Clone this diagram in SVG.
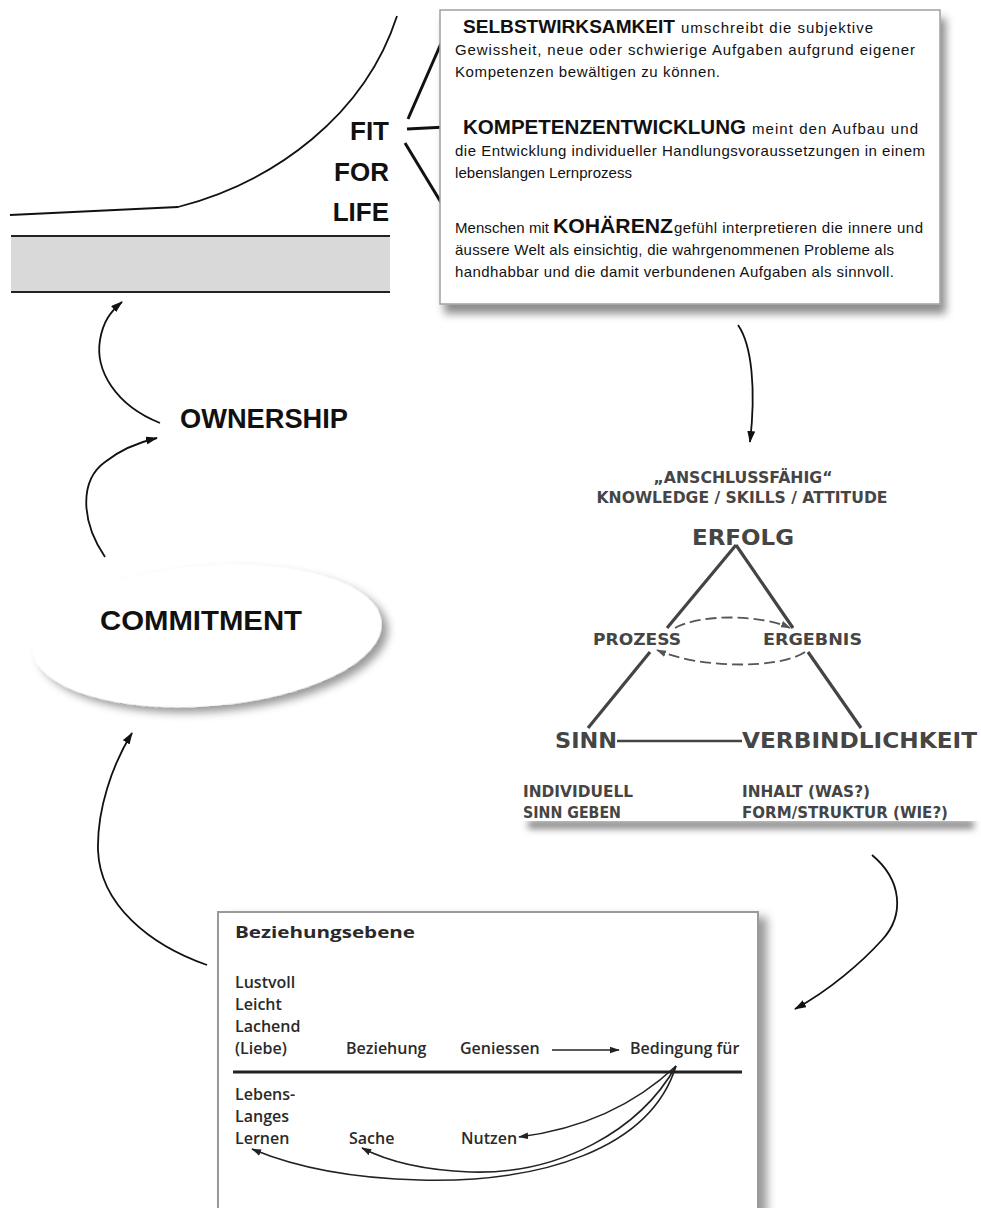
<svg xmlns="http://www.w3.org/2000/svg" width="981" height="1208" viewBox="0 0 981 1208">
<style>
.geo{font-family:"Liberation Sans",Arial,sans-serif;fill:#111}
.b{font-weight:bold}
.body{font-size:15px}
.tri{font-family:"DejaVu Sans",Verdana,sans-serif;font-weight:bold;fill:#454545}
.bz{font-family:"Open Sans","Noto Sans",sans-serif;font-weight:600;font-size:16px;fill:#2a2a2a}
.ln{fill:none;stroke:#111;stroke-width:1.8}
.tl{fill:none;stroke:#444;stroke-width:3.2}
.dash{fill:none;stroke:#555;stroke-width:1.8;stroke-dasharray:11 5}
.bl{fill:none;stroke:#222;stroke-width:1.6}
</style>
<defs>
<filter id="shBox" x="-5%" y="-5%" width="115%" height="120%"><feDropShadow dx="5" dy="9" stdDeviation="4" flood-color="#000" flood-opacity="0.45"/></filter>
<filter id="blur" x="-10%" y="-100%" width="120%" height="300%"><feGaussianBlur stdDeviation="3.5"/></filter>
<filter id="shEll" x="-10%" y="-20%" width="125%" height="150%"><feDropShadow dx="6" dy="6" stdDeviation="4" flood-color="#000" flood-opacity="0.4"/></filter>
<filter id="shBot" x="-5%" y="-5%" width="115%" height="120%"><feDropShadow dx="8" dy="6" stdDeviation="5" flood-color="#000" flood-opacity="0.4"/></filter>
<marker id="ah" viewBox="0 0 12 8" refX="11" refY="4" markerWidth="12" markerHeight="8" markerUnits="userSpaceOnUse" orient="auto"><path d="M0,0 L12,4 L0,8 z" fill="#111"/></marker>
<marker id="ahs" viewBox="0 0 12 8" refX="11" refY="4" markerWidth="10" markerHeight="7" markerUnits="userSpaceOnUse" orient="auto"><path d="M0,0 L12,4 L0,8 z" fill="#222"/></marker>
<marker id="ahg" viewBox="0 0 12 8" refX="11" refY="4" markerWidth="10" markerHeight="7" markerUnits="userSpaceOnUse" orient="auto"><path d="M0,0 L12,4 L0,8 z" fill="#555"/></marker>
</defs>
<rect width="981" height="1208" fill="#fff"/>

<g id="fit-for-life">
<path class="ln" d="M10,215 L178,207 C275,182 365,115 397,16"/>
<rect x="11" y="236" width="379" height="56" fill="#d9d9d9"/>
<line x1="11" y1="236" x2="390" y2="236" stroke="#222" stroke-width="2"/>
<line x1="11" y1="292" x2="390" y2="292" stroke="#222" stroke-width="2"/>
<text class="geo b" font-size="26" text-anchor="end" x="389" y="140">FIT</text>
<text class="geo b" font-size="26" text-anchor="end" x="389" y="181">FOR</text>
<text class="geo b" font-size="26" text-anchor="end" x="389" y="221">LIFE</text>
<line x1="408" y1="119" x2="446" y2="32" stroke="#111" stroke-width="3"/>
<line x1="407" y1="129" x2="446" y2="127" stroke="#111" stroke-width="3"/>
<line x1="405" y1="143" x2="445" y2="209" stroke="#111" stroke-width="3"/>
</g>

<g id="definitions-box">
<rect x="440" y="10" width="500" height="294" fill="#fff" stroke="#a0a0a0" stroke-width="1.5" filter="url(#shBox)"/>
<text class="geo b" font-size="19" x="463" y="33" textLength="212" lengthAdjust="spacingAndGlyphs">SELBSTWIRKSAMKEIT</text>
<text class="geo body" x="681" y="33" textLength="192" lengthAdjust="spacing">umschreibt die subjektive</text>
<text class="geo body" x="455" y="55" textLength="460" lengthAdjust="spacing">Gewissheit, neue oder schwierige Aufgaben aufgrund eigener</text>
<text class="geo body" x="455" y="77" textLength="265" lengthAdjust="spacing">Kompetenzen bewältigen zu können.</text>
<text class="geo b" font-size="20" x="463" y="134" textLength="283" lengthAdjust="spacingAndGlyphs">KOMPETENZENTWICKLUNG</text>
<text class="geo body" x="752" y="134" textLength="166" lengthAdjust="spacing">meint den Aufbau und</text>
<text class="geo body" x="455" y="156" textLength="470" lengthAdjust="spacing">die Entwicklung individueller Handlungsvoraussetzungen in einem</text>
<text class="geo body" x="455" y="178" textLength="177" lengthAdjust="spacing">lebenslangen Lernprozess</text>
<text class="geo body" x="455" y="233" textLength="94" lengthAdjust="spacing">Menschen mit</text>
<text class="geo b" font-size="21" x="553" y="233" textLength="120" lengthAdjust="spacingAndGlyphs">KOHÄRENZ</text>
<text class="geo body" x="674" y="233" textLength="249" lengthAdjust="spacing">gefühl interpretieren die innere und</text>
<text class="geo body" x="455" y="255" textLength="439" lengthAdjust="spacing">äussere Welt als einsichtig, die wahrgenommenen Probleme als</text>
<text class="geo body" x="455" y="277" textLength="439" lengthAdjust="spacing">handhabbar und die damit verbundenen Aufgaben als sinnvoll.</text>
</g>

<g id="triangle-box">
<rect x="528" y="820" width="446" height="9" fill="#8a8a8a" filter="url(#blur)"/>
<rect x="518" y="455" width="462" height="366" fill="#fff"/>
<text class="tri" font-size="16" x="743" y="483" text-anchor="middle" textLength="179" lengthAdjust="spacingAndGlyphs">„ANSCHLUSSFÄHIG“</text>
<text class="tri" font-size="16" x="742" y="503" text-anchor="middle" textLength="291" lengthAdjust="spacingAndGlyphs">KNOWLEDGE / SKILLS / ATTITUDE</text>
<text class="tri" font-size="22" x="692" y="545" textLength="102" lengthAdjust="spacingAndGlyphs">ERFOLG</text>
<line class="tl" x1="736" y1="545" x2="667" y2="628"/>
<line class="tl" x1="650" y1="652" x2="588" y2="728"/>
<line class="tl" x1="736" y1="545" x2="793" y2="628"/>
<line class="tl" x1="808" y1="652" x2="861" y2="728"/>
<text class="tri" font-size="16" x="593" y="645" textLength="88" lengthAdjust="spacingAndGlyphs">PROZESS</text>
<text class="tri" font-size="16" x="763" y="645" textLength="99" lengthAdjust="spacingAndGlyphs">ERGEBNIS</text>
<path class="dash" d="M675,628 C700,614 760,614 790,628" marker-end="url(#ahg)"/>
<path class="dash" d="M805,652 C780,669 700,669 657,650" marker-end="url(#ahg)"/>
<text class="tri" font-size="22" x="555" y="748" textLength="62" lengthAdjust="spacingAndGlyphs">SINN</text>
<line x1="617" y1="741" x2="742" y2="741" stroke="#444" stroke-width="2.6"/>
<text class="tri" font-size="22" x="742" y="748" textLength="235" lengthAdjust="spacingAndGlyphs">VERBINDLICHKEIT</text>
<text class="tri" font-size="15" x="523" y="797" textLength="110" lengthAdjust="spacingAndGlyphs">INDIVIDUELL</text>
<text class="tri" font-size="15" x="523" y="818" textLength="98" lengthAdjust="spacingAndGlyphs">SINN GEBEN</text>
<text class="tri" font-size="15" x="742" y="797" textLength="128" lengthAdjust="spacingAndGlyphs">INHALT (WAS?)</text>
<text class="tri" font-size="15" x="742" y="818" textLength="206" lengthAdjust="spacingAndGlyphs">FORM/STRUKTUR (WIE?)</text>
</g>

<g id="ownership">
<text class="geo b" font-size="27" x="180" y="428" textLength="168" lengthAdjust="spacingAndGlyphs">OWNERSHIP</text>
</g>

<g id="commitment">
<ellipse cx="207" cy="636" rx="175" ry="70" transform="rotate(-4.5 207 636)" fill="#fff" filter="url(#shEll)"/>
<text class="geo b" font-size="28" x="100" y="630" textLength="202" lengthAdjust="spacingAndGlyphs">COMMITMENT</text>
</g>

<g id="beziehungsebene-box">
<rect x="218" y="912" width="540" height="320" fill="#fff" stroke="#9a9a9a" stroke-width="2" filter="url(#shBot)"/>
<text class="bz" font-size="19" x="235" y="938" textLength="180" lengthAdjust="spacingAndGlyphs" style="font-weight:700">Beziehungsebene</text>
<text class="bz" x="235" y="988">Lustvoll</text>
<text class="bz" x="235" y="1010">Leicht</text>
<text class="bz" x="235" y="1032">Lachend</text>
<text class="bz" x="235" y="1054">(Liebe)</text>
<text class="bz" x="346" y="1054">Beziehung</text>
<text class="bz" x="460" y="1054">Geniessen</text>
<text class="bz" x="630" y="1054">Bedingung für</text>
<line x1="233" y1="1072" x2="742" y2="1072" stroke="#222" stroke-width="3"/>
<text class="bz" x="235" y="1100">Lebens-</text>
<text class="bz" x="235" y="1122">Langes</text>
<text class="bz" x="235" y="1144">Lernen</text>
<text class="bz" x="349" y="1144">Sache</text>
<text class="bz" x="461" y="1144">Nutzen</text>
</g>

<g id="connectors">
<path class="ln" d="M738,325 C752,345 756,390 750,442" marker-end="url(#ah)"/>
<path class="ln" d="M872,855 C902,880 905,915 882,940 C862,962 830,990 795,1009" marker-end="url(#ah)"/>
<path class="ln" d="M207,965 C150,945 100,905 98,850 C97,810 112,765 132,733" marker-end="url(#ah)"/>
<path class="ln" d="M105,557 C80,520 80,480 105,462 C120,450 140,442 157,438" marker-end="url(#ah)"/>
<path class="ln" d="M160,423 C115,405 95,370 100,340 C103,322 110,312 122,302" marker-end="url(#ah)"/>
<line class="bl" x1="552" y1="1050" x2="619" y2="1050" marker-end="url(#ahs)"/>
<path class="bl" d="M676,1066 C640,1100 590,1128 519,1137" marker-end="url(#ahs)"/>
<path class="bl" d="M676,1066 C640,1130 560,1175 470,1172 C420,1170 385,1160 362,1148" marker-end="url(#ahs)"/>
<path class="bl" d="M676,1066 C650,1150 540,1183 420,1180 C340,1178 290,1165 252,1149" marker-end="url(#ahs)"/>
</g>
</svg>
